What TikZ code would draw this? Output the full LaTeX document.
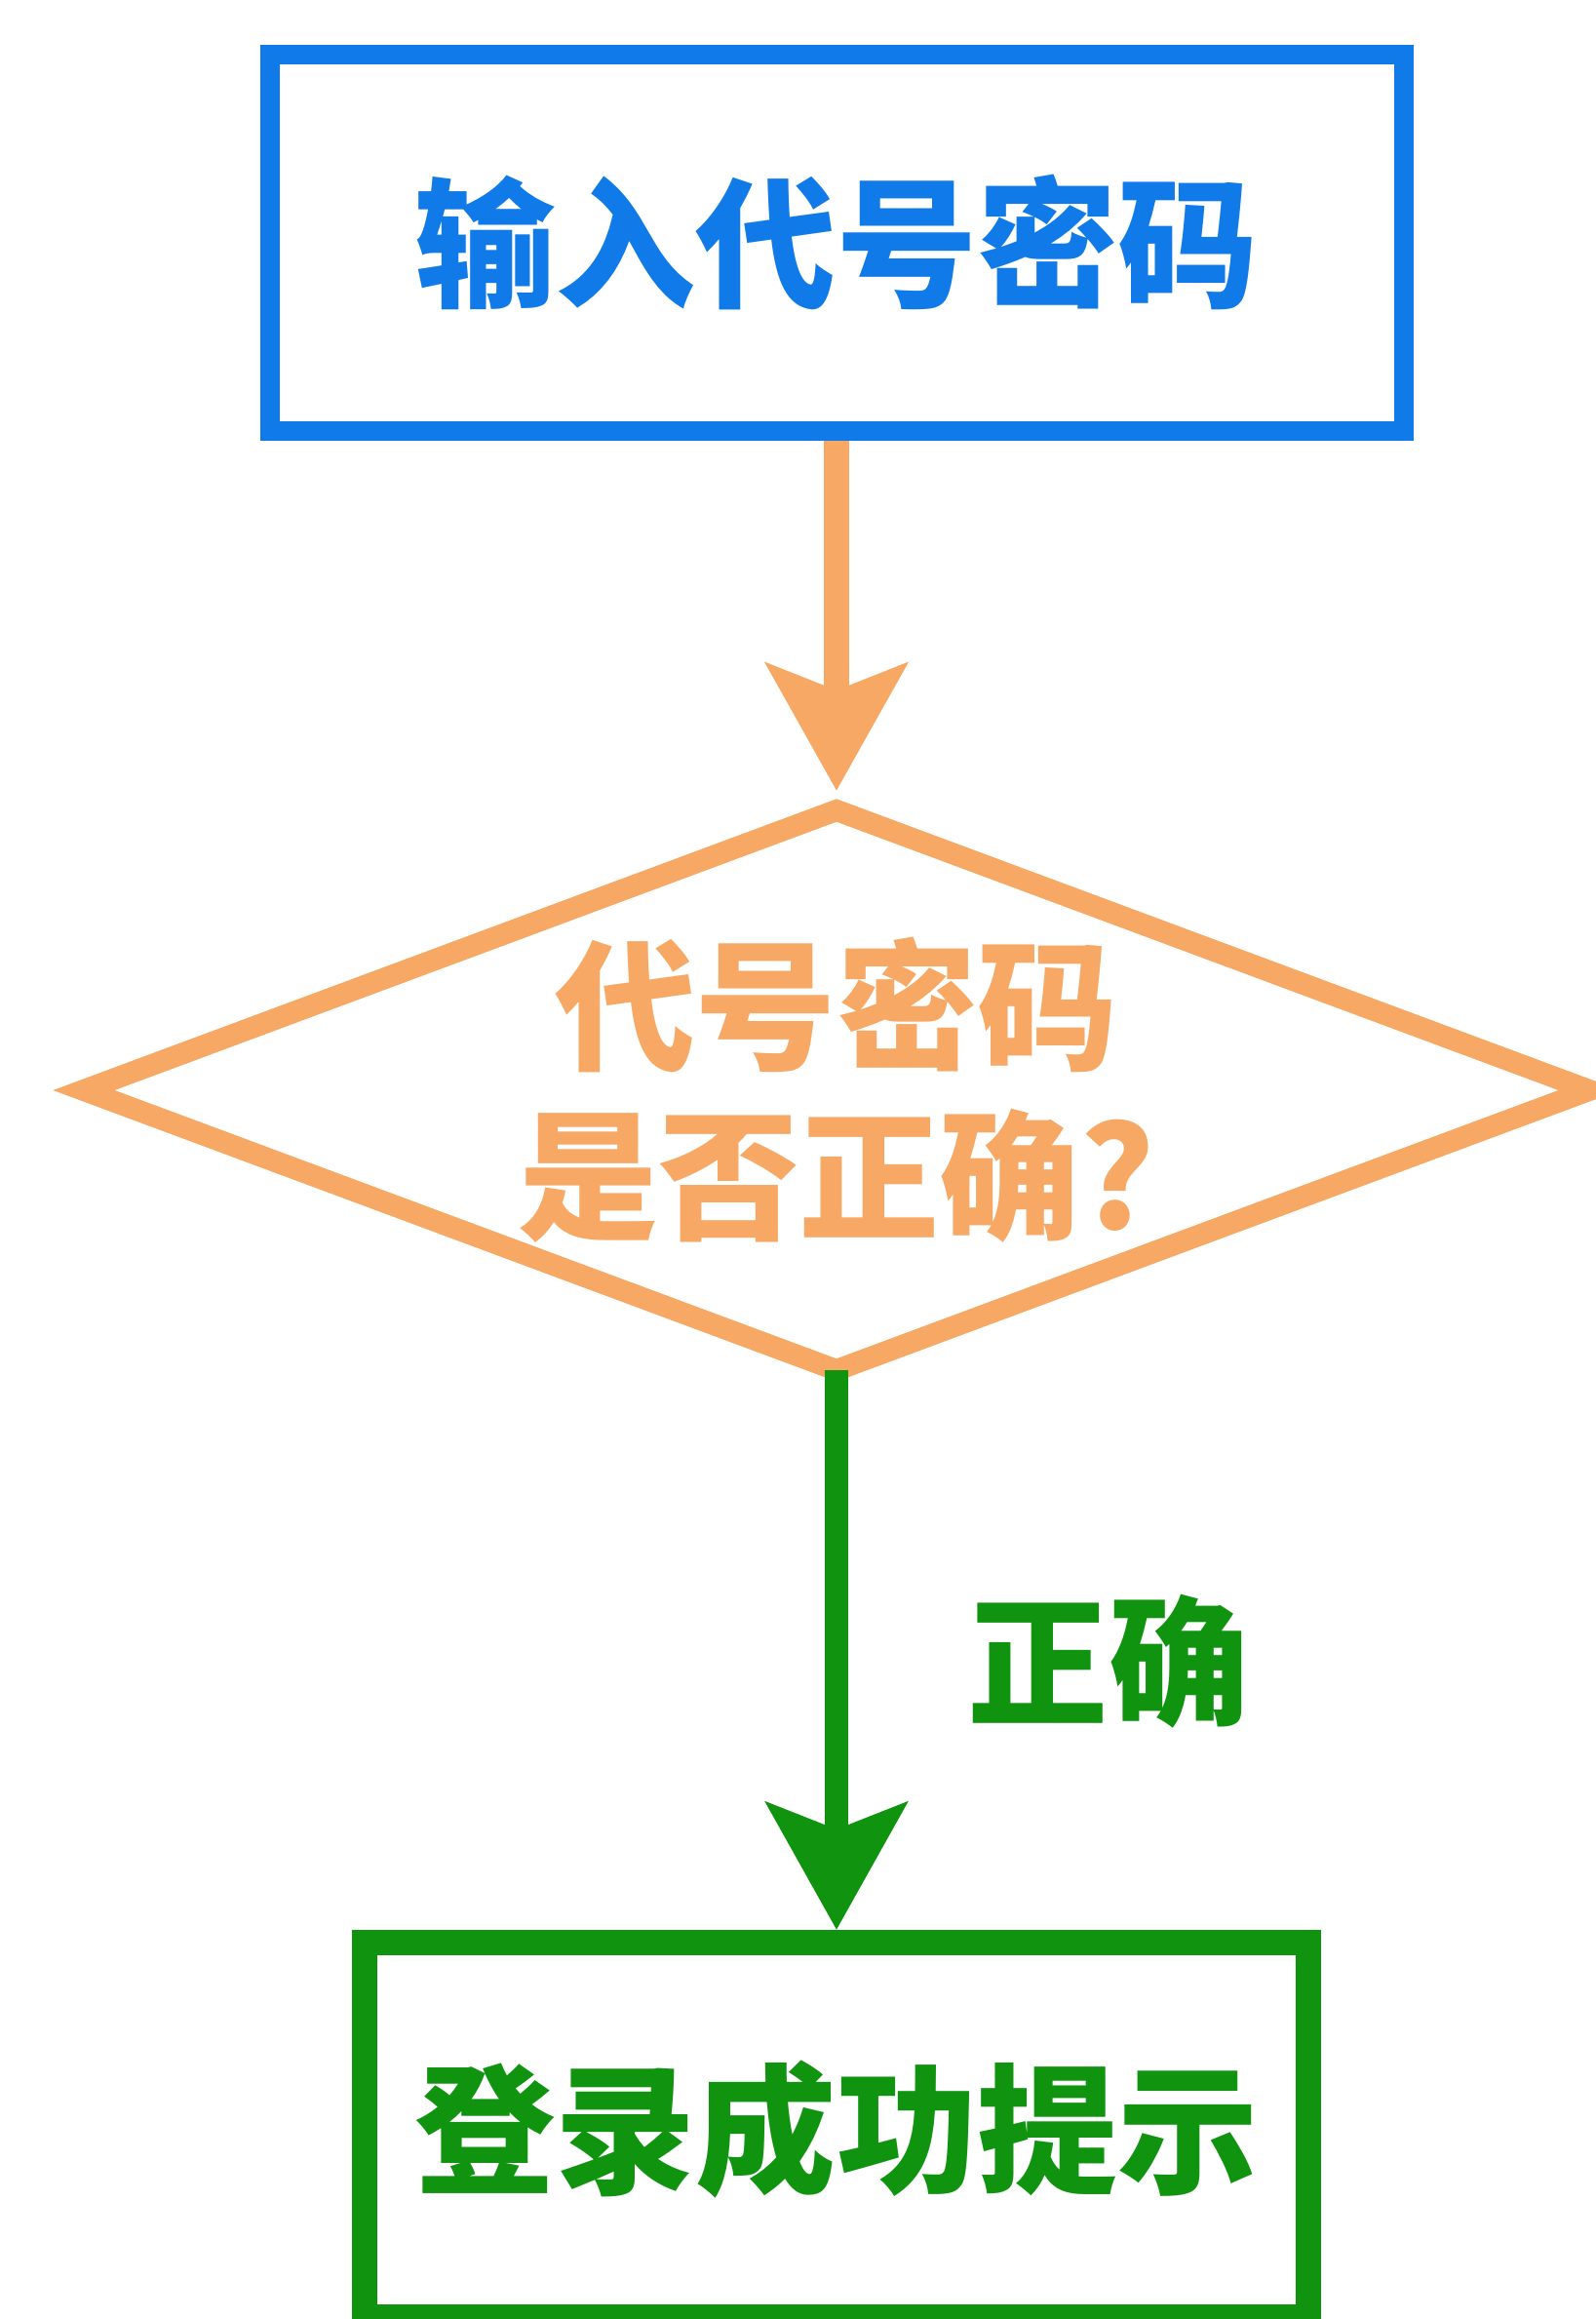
\documentclass[tikz,border=0pt]{standalone}
\usepackage{fontspec}
\newfontfamily\cjk{Noto Sans CJK SC}
\usetikzlibrary{shapes.geometric,arrows.meta}
\definecolor{inblue}{RGB}{16,122,232}
\definecolor{chkorange}{RGB}{247,168,100}
\definecolor{okgreen}{RGB}{16,148,16}
\begin{document}
\begin{tikzpicture}[
  bigtext/.style={font=\cjk\bfseries\fontsize{41}{49.5}\selectfont},
  box/.style={draw,rectangle,inner sep=0pt,bigtext},
  check/.style={draw,diamond,aspect=2.69,inner sep=0pt,outer sep=0pt,align=center,bigtext},
  flow/.style={-{Stealth[length=1.3cm,width=1.43cm,inset=0.27cm]}}
]
\useasboundingbox (0,0) rectangle (16.36,23.78);
%\draw[step=1cm,gray,very thin] (0,0) grid (16,23);
\node[box,inblue,line width=0.2cm,minimum width=11.63cm,minimum height=3.86cm] (input) at (8.58,21.29) {输入代号密码};
\node[check,chkorange,line width=0.22cm,minimum width=15.44cm,minimum height=5.74cm] (verify) at (8.58,12.60) {代号密码\\是否正确?};
\node[box,okgreen,line width=0.26cm,minimum width=9.68cm,minimum height=3.84cm] (success) at (8.58,1.94) {登录成功提示};
\node[bigtext,okgreen] (ok) at (11.37,6.74) {正确};
\draw[flow,chkorange,line width=0.26cm,shorten >=0.2cm] (input.south) -- (verify.north);
\draw[flow,okgreen,line width=0.24cm] (verify.south) -- (success.north);
\end{tikzpicture}
\end{document}
